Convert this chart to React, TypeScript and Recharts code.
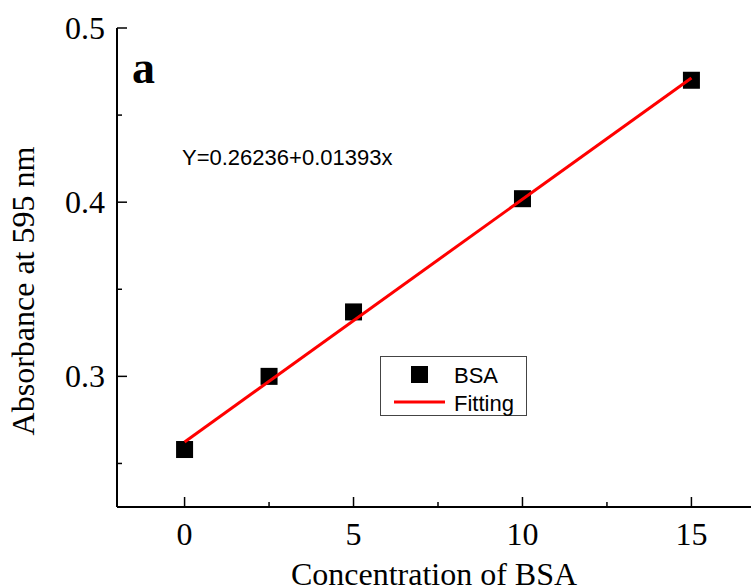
import React from "react";
import {
  ComposedChart,
  Scatter,
  XAxis,
  YAxis,
  Legend,
  Customized,
} from "recharts";

// BSA calibration points
const concentration = [0, 2.5, 5, 10, 15];
const absorbance = [0.258, 0.3, 0.337, 0.402, 0.47];

// linear fit end points (Y=0.26236+0.01393x)
const fitX = [0, 15];
const fitY = [0.26236, 0.47131];

const xTicks = [0, 2.5, 5, 7.5, 10, 12.5, 15];
const yTicks = [0.25, 0.3, 0.35, 0.4, 0.45, 0.5];
const xLabelled = [0, 5, 10, 15];
const yLabelled = [0.3, 0.4, 0.5];

const bsaData = concentration.map((x, i) => ({ x, y: absorbance[i] }));
const fitData = fitX.map((x, i) => ({ x, y: fitY[i] }));

const SERIF = "'Liberation Serif', 'Times New Roman', serif";
const SANS = "'Liberation Sans', Arial, sans-serif";

const BottomTick = (props: any) => {
  const { x, y, payload } = props;
  const major = xLabelled.includes(payload.value);
  return (
    <g>
      <line x1={x} y1={y} x2={x} y2={y - (major ? 10 : 5)} stroke="#000" strokeWidth={1.5} />
      {major && (
        <text x={x} y={y + 38} textAnchor="middle" fontFamily={SERIF} fontSize={32} fill="#000">
          {payload.value}
        </text>
      )}
    </g>
  );
};

const TopTick = (props: any) => {
  const { x, y } = props;
  return <line x1={x} y1={y} x2={x} y2={y + 2} stroke="#000" strokeWidth={1.5} />;
};

const LeftTick = (props: any) => {
  const { x, y, payload } = props;
  const major = yLabelled.some((v) => Math.abs(v - payload.value) < 1e-6);
  return (
    <g>
      <line x1={x} y1={y} x2={x + (major ? 10 : 5)} y2={y} stroke="#000" strokeWidth={1.5} />
      {major && (
        <text x={x - 12} y={y + 11} textAnchor="end" fontFamily={SERIF} fontSize={32} fill="#000">
          {payload.value.toFixed(1)}
        </text>
      )}
    </g>
  );
};

const Square = (props: any) => {
  const { cx, cy } = props;
  return <rect x={cx - 8.5} y={cy - 8.5} width={17} height={17} fill="#000" />;
};

const NoDot = () => null;

const LegendBox = () => (
  <svg width={148} height={61}>
    <rect x={0.5} y={0.5} width={146} height={59} fill="#fff" stroke="#444" strokeWidth={1} />
    <rect x={31} y={10} width={17} height={17} fill="#000" />
    <text x={74} y={27} fontFamily={SANS} fontSize={22} fill="#000">BSA</text>
    <line x1={14} y1={46} x2={65} y2={46} stroke="#ff0000" strokeWidth={3} />
    <text x={74} y={55} fontFamily={SANS} fontSize={22} fill="#000">Fitting</text>
  </svg>
);

const Annotations = () => (
  <g>
    <text x={132} y={83} fontFamily={SERIF} fontWeight="bold" fontSize={46} fill="#000">a</text>
    <text x={182} y={165} fontFamily={SANS} fontSize={22} fill="#000">Y=0.26236+0.01393x</text>
    <text
      x={34}
      y={291}
      transform="rotate(-90 34 291)"
      textAnchor="middle"
      fontFamily={SERIF}
      fontSize={32}
      fill="#000"
    >
      Absorbance at 595 nm
    </text>
    <text x={434} y={585} textAnchor="middle" fontFamily={SERIF} fontSize={32} fill="#000">
      Concentration of BSA
    </text>
  </g>
);

export default function App() {
  return (
    <div
      style={{
        position: "absolute",
        left: 0,
        top: 0,
        width: 751,
        height: 587,
        overflow: "hidden",
        background: "#fff",
      }}
    >
      <ComposedChart
        width={780}
        height={587}
        margin={{ top: 28, right: 21, bottom: 0, left: 0 }}
      >
        <XAxis
          type="number"
          dataKey="x"
          domain={[-2, 17]}
          ticks={xTicks}
          allowDataOverflow
          height={80}
          tickSize={0}
          tickMargin={0}
          tickLine={false}
          axisLine={{ stroke: "#000", strokeWidth: 2 }}
          tick={<BottomTick />}
          interval={0}
        />
        <XAxis
          xAxisId="top"
          orientation="top"
          type="number"
          dataKey="x"
          domain={[-2, 17]}
          ticks={xTicks}
          allowDataOverflow
          height={0}
          tickSize={0}
          tickMargin={0}
          tickLine={false}
          axisLine={{ stroke: "#000", strokeWidth: 2 }}
          tick={<TopTick />}
          interval={0}
        />
        <YAxis
          type="number"
          dataKey="y"
          domain={[0.225, 0.5]}
          ticks={yTicks}
          allowDataOverflow
          width={117}
          tickSize={0}
          tickMargin={0}
          tickLine={false}
          axisLine={{ stroke: "#000", strokeWidth: 2 }}
          tick={<LeftTick />}
          interval={0}
        />
        <Scatter
          name="BSA"
          data={bsaData}
          shape={<Square />}
          isAnimationActive={false}
        />
        <Scatter
          name="Fitting"
          data={fitData}
          line={{ stroke: "#ff0000", strokeWidth: 3 }}
          shape={<NoDot />}
          isAnimationActive={false}
        />
        <Legend
          layout="vertical"
          align="center"
          verticalAlign="middle"
          content={() => <LegendBox />}
          wrapperStyle={{ position: "absolute", left: 380, top: 356, width: 148, height: 61 }}
        />
        <Customized component={Annotations} />
      </ComposedChart>
    </div>
  );
}
